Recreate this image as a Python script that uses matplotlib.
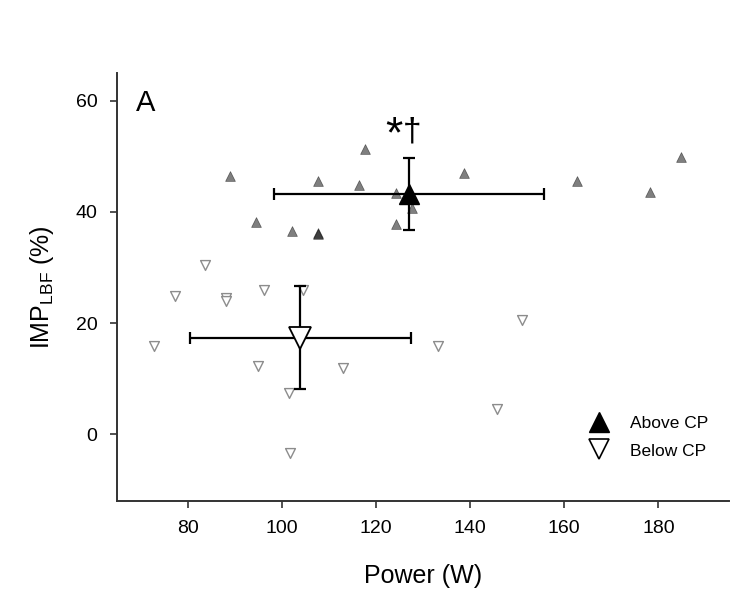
import matplotlib
matplotlib.use("Agg")
import matplotlib.pyplot as plt
from matplotlib.lines import Line2D

plt.rcParams["font.family"] = ["Liberation Sans", "DejaVu Sans"]
plt.rcParams["mathtext.fontset"] = "custom"
plt.rcParams["mathtext.rm"] = "Liberation Sans"
plt.rcParams["mathtext.it"] = "Liberation Sans:italic"

# individual subjects, above critical power
above_power = [89.1, 94.5, 102.2, 107.7, 107.7, 107.7, 116.4, 117.7, 124.2, 124.2,
               127.6, 138.6, 162.8, 178.2, 184.8]
above_imp = [46.5, 38.2, 36.5, 45.6, 36.1, 36.2, 44.8, 51.4, 43.4, 37.8,
             40.8, 47.1, 45.6, 43.6, 49.9]

# individual subjects, below critical power
below_power = [72.8, 77.4, 83.6, 88.1, 88.1, 94.9, 96.2, 101.6, 101.7, 104.5,
               113.0, 133.1, 145.7, 151.1]
below_imp = [15.9, 24.8, 30.4, 24.6, 24.0, 12.2, 25.9, 7.5, -3.4, 26.0,
             11.9, 15.8, 4.6, 20.6]

# group means with SD
above_mean = (127.0, 43.2)
above_sd = (28.6, 6.45)
below_mean = (103.9, 17.4)
below_sd = (23.5, 9.3)

fig = plt.figure(figsize=(7.55, 5.99), dpi=100)
ax = fig.add_axes([0.155, 0.1636, 0.8106, 0.7145])

ax.scatter(below_power, below_imp, marker="v", s=50, facecolor="white",
           edgecolor="#8c8c8c", linewidth=1.0, zorder=2)
ax.scatter(above_power, above_imp, marker="^", s=50, facecolor="black",
           edgecolor="black", alpha=0.5, linewidth=0.5, zorder=2)

ax.errorbar(below_mean[0], below_mean[1], xerr=below_sd[0], yerr=below_sd[1],
            fmt="none", ecolor="black", elinewidth=1.6, capsize=4, capthick=1.6, zorder=3)
ax.plot(below_mean[0], below_mean[1], marker="v", ms=16, mfc="white", mec="black",
        mew=1.3, zorder=4)
ax.errorbar(above_mean[0], above_mean[1], xerr=above_sd[0], yerr=above_sd[1],
            fmt="none", ecolor="black", elinewidth=1.6, capsize=4, capthick=1.6, zorder=3)
ax.plot(above_mean[0], above_mean[1], marker="^", ms=15, mfc="black", mec="black",
        zorder=4)

ax.text(0.031, 0.93, "A", transform=ax.transAxes, fontsize=21, va="center", ha="left")
# significance marks above the "above CP" mean
ax.text(125.6, 53.7, "*", fontsize=32, ha="right", va="center")
ax.text(125.8, 54.4, "\u2020", fontsize=24, ha="left", va="center")

ax.set_xlim(65, 195)
ax.set_ylim(-12, 65)
ax.set_xticks([80, 100, 120, 140, 160, 180])
ax.set_yticks([0, 20, 40, 60])
ax.tick_params(labelsize=14, length=5, width=1.2, color="#333333", pad=9)
ax.spines["top"].set_visible(False)
ax.spines["right"].set_visible(False)
for side in ["left", "bottom"]:
    ax.spines[side].set_linewidth(1.4)
    ax.spines[side].set_color("#333333")

ax.set_xlabel("Power (W)", fontsize=18, labelpad=19)
ax.set_ylabel(r"IMP$_{\mathrm{LBF}}$ (%)", fontsize=18, labelpad=14)

handles = [
    Line2D([], [], marker="^", ls="none", ms=14, mfc="black", mec="black"),
    Line2D([], [], marker="v", ls="none", ms=14, mfc="white", mec="black", mew=1.2),
]
ax.legend(handles, ["Above CP", "Below CP"], loc="upper left",
          bbox_to_anchor=(0.745, 0.235), frameon=False, fontsize=12.5,
          handlelength=1.2, handletextpad=1.2, labelspacing=0.7)

fig.savefig("out.png", dpi=100)
